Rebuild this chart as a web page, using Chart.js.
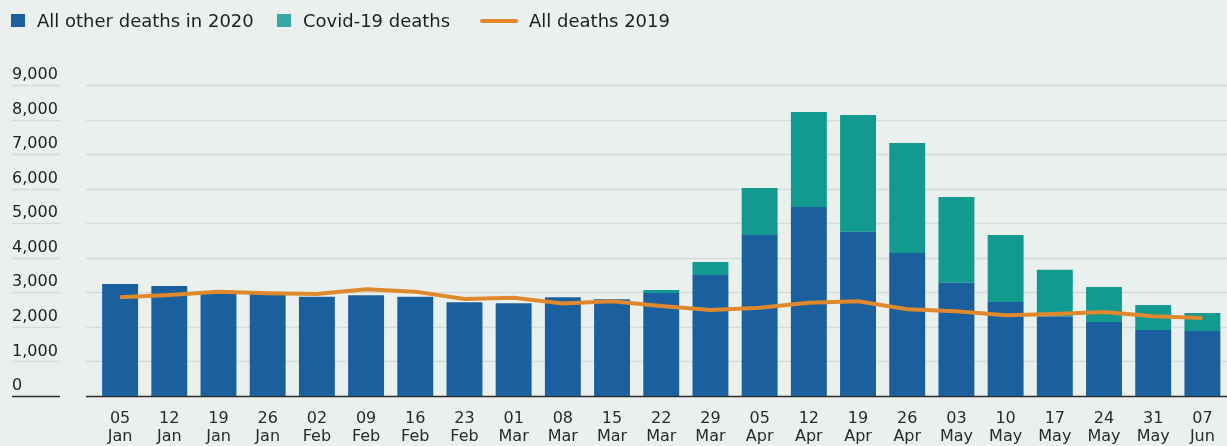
<!DOCTYPE html>
<html>
<head>
<meta charset="utf-8">
<script src="https://cdn.jsdelivr.net/npm/chart.js@4.4.1/dist/chart.umd.min.js"></script>
<style>
  html, body { margin: 0; padding: 0; background: #eaf0ed; }
  #wrap { position: relative; width: 1227px; height: 446px; }
  #chart { position: absolute; left: 0; top: 0; }
  .key { position: absolute; top: 12px; font: 18px/18px 'DejaVu Sans', sans-serif; color: #1e1e1e; white-space: nowrap; }
  .sw { position: absolute; }
</style>
</head>
<body>
<div id="wrap">
  <canvas id="chart" width="1227" height="446"></canvas>
  <div class="sw" style="left:11px;top:14px;width:14px;height:13px;background:#1a5f9e"></div>
  <div class="key" style="left:37px">All other deaths in 2020</div>
  <div class="sw" style="left:277px;top:14px;width:14px;height:13px;background:#3aa7a7"></div>
  <div class="key" style="left:303px">Covid-19 deaths</div>
  <div class="sw" style="left:480px;top:19px;width:38px;height:4px;border-radius:2px;background:#e0882c"></div>
  <div class="key" style="left:529px">All deaths 2019</div>
</div>
<script>
const weeks = ['05 Jan', '12 Jan', '19 Jan', '26 Jan', '02 Feb', '09 Feb', '16 Feb', '23 Feb',
  '01 Mar', '08 Mar', '15 Mar', '22 Mar', '29 Mar', '05 Apr', '12 Apr', '19 Apr', '26 Apr',
  '03 May', '10 May', '17 May', '24 May', '31 May', '07 Jun'];

const otherDeaths2020 = [3240, 3180, 3000, 2970, 2875, 2915, 2875, 2710, 2685, 2855, 2800, 2980,
  3500, 4660, 5470, 4750, 4140, 3280, 2720, 2300, 2140, 1910, 1880];

const covidDeaths = [0, 0, 0, 0, 0, 0, 0, 0, 0, 0, 0, 90,
  380, 1360, 2750, 3385, 3185, 2480, 1940, 1350, 1015, 725, 520];

const allDeaths2019 = [2855, 2925, 3020, 2970, 2950, 3090, 3020, 2805, 2845, 2675, 2740, 2605,
  2490, 2555, 2700, 2740, 2510, 2450, 2335, 2375, 2430, 2305, 2260];

const yTicks = [0, 1000, 2000, 3000, 4000, 5000, 6000, 7000, 8000, 9000];

// horizontal rules: short piece under each tick label, then the full-width line
const gridLines = {
    id: 'gridLines',
    beforeDatasetsDraw(chart) {
        const { ctx, chartArea, scales: { y } } = chart;
        ctx.save();
        y.ticks.forEach(t => {
            const py = Math.round(y.getPixelForValue(t.value)) + 0.5;
            ctx.strokeStyle = t.value === 0 ? '#2b2b2b' : '#d5dbd9';
            ctx.lineWidth = 1.5;
            ctx.beginPath();
            ctx.moveTo(12, py);
            ctx.lineTo(60, py);
            ctx.moveTo(86, py);
            ctx.lineTo(chartArea.right, py);
            ctx.stroke();
        });
        ctx.restore();
    }
};

const tickFont = { family: "'DejaVu Sans', sans-serif", size: 16, lineHeight: 1.1 };

new Chart(document.getElementById('chart'), {
    data: {
        labels: weeks.map(w => w.split(' ')),
        datasets: [
            {
                type: 'line',
                label: 'All deaths 2019',
                data: allDeaths2019,
                stack: 'y2019',
                borderColor: '#e0882c',
                borderWidth: 4,
                pointRadius: 0,
                tension: 0,
                order: 0
            },
            {
                type: 'bar',
                label: 'All other deaths in 2020',
                data: otherDeaths2020,
                stack: 'y2020',
                backgroundColor: '#1a5f9e',
                barPercentage: 0.73,
                categoryPercentage: 1,
                order: 1
            },
            {
                type: 'bar',
                label: 'Covid-19 deaths',
                data: covidDeaths,
                stack: 'y2020',
                backgroundColor: '#129a90',
                barPercentage: 0.73,
                categoryPercentage: 1,
                order: 1
            }
        ]
    },
    options: {
        responsive: false,
        devicePixelRatio: 1,
        animation: false,
        layout: { padding: { left: 12, top: 85, right: 0, bottom: 0 } },
        plugins: {
            legend: { display: false },
            tooltip: { enabled: false }
        },
        scales: {
            x: {
                stacked: true,
                grid: { display: false },
                border: { display: false },
                ticks: {
                    font: tickFont,
                    color: '#2a2a2a',
                    padding: 6,
                    maxRotation: 0,
                    autoSkip: false
                },
                afterFit(scale) { scale.height = 50; }
            },
            y: {
                stacked: true,
                min: 0,
                max: 9000,
                grid: { display: false },
                border: { display: false },
                afterBuildTicks(scale) { scale.ticks = yTicks.map(v => ({ value: v })); },
                ticks: {
                    font: tickFont,
                    color: '#222',
                    crossAlign: 'far',
                    labelOffset: -10,
                    padding: 0,
                    callback: v => v.toLocaleString('en-US')
                },
                afterFit(scale) { scale.width = 83.5; }
            }
        }
    },
    plugins: [gridLines]
});
</script>
</body>
</html>
